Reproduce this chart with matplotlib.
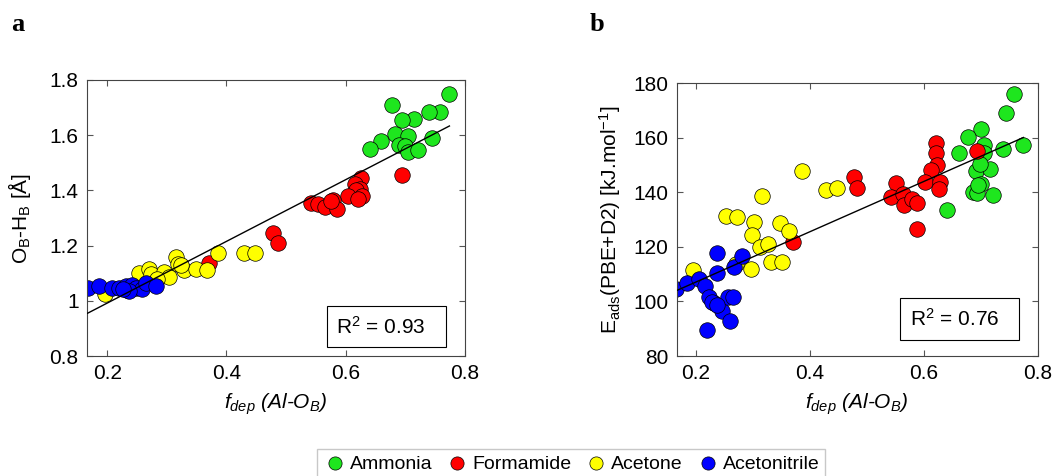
import numpy as np
from matplotlib import pyplot as plt
from matplotlib.patches import Rectangle

plt.rcParams['font.family'] = ['Liberation Sans', 'DejaVu Sans']
plt.rcParams['mathtext.fontset'] = 'custom'
plt.rcParams['mathtext.rm'] = 'Liberation Sans'
plt.rcParams['mathtext.it'] = 'Liberation Sans:italic'
plt.rcParams['mathtext.bf'] = 'Liberation Sans:bold'

names = ['Ammonia', 'Formamide', 'Acetone', 'Acetonitrile']
colors = ['#1ee61e', '#ff0000', '#ffff00', '#0000ff']

# panel a: f_dep vs O_B-H_B
a_x = {
    'Ammonia': [0.774, 0.677, 0.758, 0.739, 0.715, 0.694, 0.683, 0.704, 0.744,
                0.660, 0.640, 0.689, 0.699, 0.705, 0.722],
    'Formamide': [0.625, 0.615, 0.624, 0.618, 0.604, 0.627, 0.621, 0.694, 0.542,
                  0.554, 0.565, 0.579, 0.586, 0.575, 0.478, 0.486, 0.371],
    'Acetone': [0.385, 0.430, 0.448, 0.315, 0.253, 0.270, 0.273, 0.295, 0.304,
                0.318, 0.329, 0.349, 0.367, 0.323, 0.197, 0.283],
    'Acetonitrile': [0.167, 0.186, 0.208, 0.220, 0.231, 0.234, 0.242, 0.248,
                     0.259, 0.265, 0.281, 0.236, 0.226],
}
a_y = {
    'Ammonia': [1.748, 1.708, 1.684, 1.684, 1.657, 1.654, 1.606, 1.598, 1.588,
                1.578, 1.549, 1.564, 1.560, 1.540, 1.548],
    'Formamide': [1.446, 1.422, 1.404, 1.400, 1.380, 1.380, 1.368, 1.454, 1.353,
                  1.349, 1.341, 1.367, 1.331, 1.360, 1.245, 1.211, 1.136],
    'Acetone': [1.175, 1.175, 1.172, 1.157, 1.100, 1.114, 1.096, 1.106, 1.088,
                1.133, 1.112, 1.114, 1.112, 1.128, 1.025, 1.080],
    'Acetonitrile': [1.046, 1.054, 1.048, 1.046, 1.052, 1.040, 1.058, 1.048,
                     1.042, 1.064, 1.052, 1.036, 1.044],
}

# panel b: f_dep vs E_ads
b_x = {
    'Ammonia': [0.759, 0.744, 0.775, 0.740, 0.700, 0.678, 0.662, 0.705, 0.706,
                0.691, 0.717, 0.699, 0.701, 0.686, 0.694, 0.721, 0.640, 0.695],
    'Formamide': [0.621, 0.621, 0.623, 0.612, 0.603, 0.629, 0.627, 0.694, 0.551,
                  0.542, 0.564, 0.565, 0.580, 0.588, 0.588, 0.477, 0.483, 0.370],
    'Acetone': [0.386, 0.316, 0.429, 0.448, 0.253, 0.272, 0.302, 0.298, 0.313,
                0.326, 0.348, 0.364, 0.332, 0.351, 0.296, 0.194, 0.270],
    'Acetonitrile': [0.165, 0.184, 0.206, 0.216, 0.223, 0.231, 0.245, 0.260,
                     0.220, 0.257, 0.265, 0.236, 0.236, 0.266, 0.280, 0.228, 0.237],
}
b_y = {
    'Ammonia': [176.0, 168.9, 157.2, 155.8, 163.1, 160.3, 154.4, 157.2, 154.4,
                147.7, 148.4, 150.2, 143.2, 140.1, 139.8, 138.9, 133.6, 142.5],
    'Formamide': [158.1, 154.2, 149.9, 148.1, 143.8, 143.8, 141.3, 155.0, 143.5,
                  138.3, 139.5, 135.5, 137.7, 136.1, 126.7, 145.6, 141.7, 121.8],
    'Acetone': [147.8, 138.5, 140.7, 141.7, 131.2, 130.9, 129.1, 124.5, 119.9,
                121.2, 128.7, 125.8, 114.4, 114.4, 112.0, 111.4, 113.8],
    'Acetonitrile': [104.4, 106.9, 108.3, 105.5, 101.6, 99.5, 96.5, 92.8,
                     89.4, 101.8, 101.8, 117.7, 110.4, 112.6, 116.5, 99.8, 98.6],
}

a_yticks = [0.8, 1.0, 1.2, 1.4, 1.6, 1.8]
a_yticklabels = ['0.8', '1', '1.2', '1.4', '1.6', '1.8']
b_yticks = [80, 100, 120, 140, 160, 180]
xticks = [0.2, 0.4, 0.6, 0.8]
r2 = ['0.93', '0.76']

fig = plt.figure(figsize=(10.54, 4.76), dpi=100)
ax1 = fig.add_axes([0.0825, 0.252, 0.3586, 0.580])
ax2 = fig.add_axes([0.642, 0.252, 0.3425, 0.5735])


def panel(ax, xs, ys, yticks, ylim, boxpos):
    handles = []
    for name, c in zip(names, colors):
        h = ax.scatter(xs[name], ys[name], s=125, c=c, edgecolors='k',
                       linewidths=0.5, label=name, zorder=2)
        handles.append(h)
    allx = np.concatenate([xs[n] for n in names])
    ally = np.concatenate([ys[n] for n in names])
    p = np.polyfit(allx, ally, 1)
    xl = np.array([allx.min(), allx.max()])
    ax.plot(xl, np.polyval(p, xl), 'k-', lw=1, zorder=3)
    ax.set_xlim(0.166, 0.8)
    ax.set_ylim(*ylim)
    ax.set_xticks(xticks)
    ax.set_xticklabels(['0.2', '0.4', '0.6', '0.8'])
    ax.set_yticks(yticks)
    ax.tick_params(direction='in', top=True, right=True, length=4,
                   labelsize=15, color='#555555', pad=6)
    for s in ax.spines.values():
        s.set_color('#444444')
        s.set_linewidth(0.8)
    ax.set_xlabel(r'$f_{dep}$ (Al-O$_B$)', style='italic', fontsize=15,
                  labelpad=6)
    x0, y0, w, hgt, txt = boxpos
    ax.add_patch(Rectangle((x0, y0), w, hgt, transform=ax.transAxes,
                           fill=True, fc='white', ec='k', lw=0.8, zorder=4))
    ax.text(x0 + 0.025, y0 + hgt / 2, r'R$^\mathregular{2}$ = ' + txt,
            transform=ax.transAxes, va='center', ha='left', fontsize=15,
            zorder=5)
    return handles


handles = panel(ax1, a_x, a_y, a_yticks, (0.8, 1.8),
                (0.634, 0.0315, 0.316, 0.15, r2[0]))
ax1.set_yticklabels(a_yticklabels)
ax1.set_ylabel(r'O$_\mathregular{B}$-H$_\mathregular{B}$ [Å]', fontsize=15,
               labelpad=12)

panel(ax2, b_x, b_y, b_yticks, (80, 180),
      (0.620, 0.059, 0.329, 0.152, r2[1]))
ax2.set_ylabel(r'E$_\mathregular{ads}$(PBE+D2) [kJ.mol$^\mathregular{-1}$]',
               fontsize=15, labelpad=7)

fig.text(0.011, 0.935, 'a', family='Liberation Serif', weight='bold',
         fontsize=19)
fig.text(0.559, 0.935, 'b', family='Liberation Serif', weight='bold',
         fontsize=19)

leg = fig.legend(handles=handles, loc='upper center', ncol=4,
                 bbox_to_anchor=(0.542, 0.077), fontsize=14,
                 frameon=True, fancybox=False, edgecolor='#bbbbbb',
                 handletextpad=0.15, columnspacing=0.7, borderpad=0.3,
                 handlelength=1.2, markerscale=0.85)
leg.get_frame().set_linewidth(1)

fig.savefig('out.png', dpi=100)
